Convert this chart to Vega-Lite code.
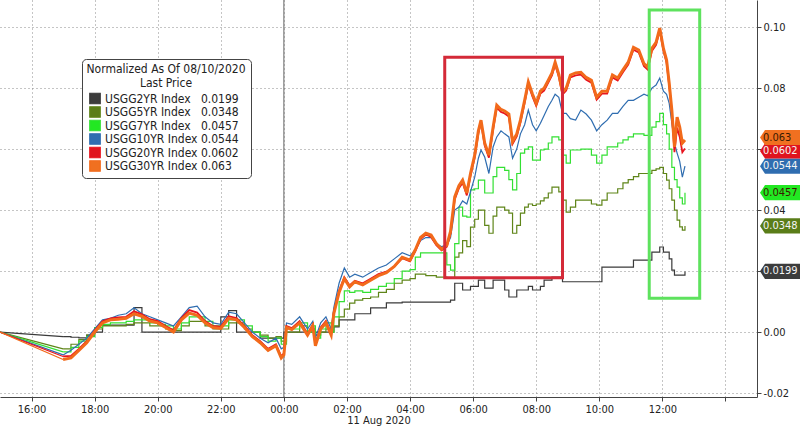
{
  "$schema": "https://vega.github.io/schema/vega-lite/v6.json",
  "width": 757,
  "height": 397,
  "autosize": {"type": "none"},
  "padding": {"left": 0, "top": 0, "right": 43, "bottom": 29},
  "background": "white",
  "config": {
    "view": {"stroke": null},
    "font": "DejaVu Sans Condensed, DejaVu Sans, sans-serif",
    "axis": {"domainColor": "#444", "tickColor": "#444", "labelColor": "#222", "labelFontSize": 11, "gridColor": "#8a8a8a", "gridDash": [1, 3], "gridWidth": 1, "titleFontWeight": "normal", "titleFontSize": 11, "titleColor": "#222"}
  },
  "datasets": {
    "series": [
      {"t":"2020-08-10T15:00","s2":0,"s5":0,"s7":0,"s10":0,"s20":0,"s30":0},
      {"t":"2020-08-10T17:00","s2":-0.0015,"s5":-0.0055,"s7":-0.0065,"s10":-0.0075,"s20":-0.008,"s30":-0.009},
      {"t":"2020-08-10T17:15","s2":-0.0017,"s5":-0.004,"s7":-0.005,"s10":-0.006,"s20":-0.0078,"s30":-0.0085},
      {"t":"2020-08-10T17:30","s2":-0.0019,"s5":-0.0025,"s7":-0.003,"s10":-0.004,"s20":-0.0055,"s30":-0.006},
      {"t":"2020-08-10T17:45","s2":-0.001,"s5":-0.001,"s7":-0.0015,"s10":-0.002,"s20":-0.003,"s30":-0.0035},
      {"t":"2020-08-10T18:00","s2":0,"s5":0.001,"s7":0.0015,"s10":0.001,"s20":0.0005,"s30":0},
      {"t":"2020-08-10T18:15","s2":0.0023,"s5":0.002,"s7":0.0025,"s10":0.004,"s20":0.0035,"s30":0.003},
      {"t":"2020-08-10T18:30","s2":0.0023,"s5":0.002,"s7":0.003,"s10":0.0045,"s20":0.0045,"s30":0.004},
      {"t":"2020-08-10T18:45","s2":0.0023,"s5":0.002,"s7":0.003,"s10":0.0055,"s20":0.0048,"s30":0.0042},
      {"t":"2020-08-10T19:00","s2":0.0023,"s5":0.0025,"s7":0.0035,"s10":0.006,"s20":0.005,"s30":0.0045},
      {"t":"2020-08-10T19:15","s2":0.008,"s5":0.003,"s7":0.004,"s10":0.008,"s20":0.0068,"s30":0.006},
      {"t":"2020-08-10T19:30","s2":0,"s5":0.003,"s7":0.004,"s10":0.006,"s20":0.0058,"s30":0.0052},
      {"t":"2020-08-10T19:45","s2":0,"s5":0.002,"s7":0.003,"s10":0.005,"s20":0.0042,"s30":0.0036},
      {"t":"2020-08-10T20:00","s2":0,"s5":0.002,"s7":0.0025,"s10":0.004,"s20":0.0036,"s30":0.003},
      {"t":"2020-08-10T20:15","s2":0,"s5":0.001,"s7":0.002,"s10":0.003,"s20":0.002,"s30":0.0015},
      {"t":"2020-08-10T20:30","s2":0,"s5":0.0005,"s7":0.001,"s10":0.002,"s20":0.0006,"s30":0},
      {"t":"2020-08-10T20:45","s2":0,"s5":0.002,"s7":0.003,"s10":0.005,"s20":0.0046,"s30":0.004},
      {"t":"2020-08-10T21:00","s2":0,"s5":0.0035,"s7":0.005,"s10":0.008,"s20":0.0072,"s30":0.0062},
      {"t":"2020-08-10T21:15","s2":0,"s5":0.0035,"s7":0.005,"s10":0.0085,"s20":0.0064,"s30":0.0055},
      {"t":"2020-08-10T21:30","s2":0,"s5":0.002,"s7":0.0035,"s10":0.005,"s20":0.0036,"s30":0.003},
      {"t":"2020-08-10T21:45","s2":0,"s5":0.001,"s7":0.002,"s10":0.003,"s20":0.002,"s30":0.0015},
      {"t":"2020-08-10T22:00","s2":0.005,"s5":0.001,"s7":0.002,"s10":0.0025,"s20":0.0018,"s30":0.0012},
      {"t":"2020-08-10T22:15","s2":0.007,"s5":0.003,"s7":0.004,"s10":0.0065,"s20":0.0052,"s30":0.0045},
      {"t":"2020-08-10T22:30","s2":0,"s5":0.003,"s7":0.004,"s10":0.006,"s20":0.0046,"s30":0.004},
      {"t":"2020-08-10T22:45","s2":0,"s5":0.001,"s7":0.002,"s10":0.003,"s20":0.002,"s30":0.0015},
      {"t":"2020-08-10T23:00","s2":0,"s5":0,"s7":0,"s10":0,"s20":-0.001,"s30":-0.0015},
      {"t":"2020-08-10T23:15","s2":-0.002,"s5":-0.001,"s7":-0.0015,"s10":-0.002,"s20":-0.003,"s30":-0.0035},
      {"t":"2020-08-10T23:30","s2":-0.002,"s5":-0.002,"s7":-0.003,"s10":-0.0035,"s20":-0.0055,"s30":-0.006},
      {"t":"2020-08-10T23:45","s2":-0.002,"s5":-0.0015,"s7":-0.002,"s10":-0.002,"s20":-0.004,"s30":-0.0045},
      {"t":"2020-08-10T23:55","s2":-0.002,"s5":-0.003,"s7":-0.004,"s10":-0.0055,"s20":-0.008,"s30":-0.0085},
      {"t":"2020-08-11T00:00","s2":0,"s5":-0.003,"s7":-0.004,"s10":-0.005,"s20":-0.007,"s30":-0.0075},
      {"t":"2020-08-11T00:05","s2":0,"s5":0,"s7":0.001,"s10":0.003,"s20":0.002,"s30":0.0015},
      {"t":"2020-08-11T00:15","s2":0,"s5":0,"s7":0.001,"s10":0.0025,"s20":0.0013,"s30":0.0008},
      {"t":"2020-08-11T00:30","s2":0,"s5":0.002,"s7":0.003,"s10":0.005,"s20":0.0036,"s30":0.003},
      {"t":"2020-08-11T00:45","s2":0,"s5":0,"s7":0,"s10":0.001,"s20":-0.0005,"s30":-0.001},
      {"t":"2020-08-11T00:55","s2":0,"s5":0.001,"s7":0.002,"s10":0.0035,"s20":0.0025,"s30":0.002},
      {"t":"2020-08-11T01:00","s2":0,"s5":-0.001,"s7":-0.002,"s10":-0.002,"s20":-0.004,"s30":-0.0045},
      {"t":"2020-08-11T01:10","s2":0,"s5":0,"s7":0.001,"s10":0.003,"s20":0.0015,"s30":0.001},
      {"t":"2020-08-11T01:20","s2":0,"s5":0.001,"s7":0.003,"s10":0.005,"s20":0.0036,"s30":0.003},
      {"t":"2020-08-11T01:30","s2":0,"s5":0,"s7":0,"s10":0.001,"s20":-0.0005,"s30":-0.001},
      {"t":"2020-08-11T01:35","s2":0.0017,"s5":0.002,"s7":0.005,"s10":0.008,"s20":0.0065,"s30":0.006},
      {"t":"2020-08-11T01:45","s2":0.004,"s5":0.005,"s7":0.01,"s10":0.016,"s20":0.0135,"s30":0.013},
      {"t":"2020-08-11T01:55","s2":0.004,"s5":0.0075,"s7":0.0135,"s10":0.021,"s20":0.018,"s30":0.0175},
      {"t":"2020-08-11T02:05","s2":0.004,"s5":0.0095,"s7":0.013,"s10":0.018,"s20":0.0153,"s30":0.0148},
      {"t":"2020-08-11T02:15","s2":0.006,"s5":0.0105,"s7":0.0135,"s10":0.019,"s20":0.0168,"s30":0.0165},
      {"t":"2020-08-11T02:30","s2":0.006,"s5":0.011,"s7":0.013,"s10":0.018,"s20":0.016,"s30":0.0155},
      {"t":"2020-08-11T02:45","s2":0.0079,"s5":0.0115,"s7":0.014,"s10":0.0195,"s20":0.0175,"s30":0.017},
      {"t":"2020-08-11T03:00","s2":0.0079,"s5":0.013,"s7":0.015,"s10":0.021,"s20":0.019,"s30":0.0185},
      {"t":"2020-08-11T03:15","s2":0.0096,"s5":0.014,"s7":0.016,"s10":0.022,"s20":0.0198,"s30":0.0195},
      {"t":"2020-08-11T03:30","s2":0.0096,"s5":0.016,"s7":0.0175,"s10":0.024,"s20":0.0215,"s30":0.0215},
      {"t":"2020-08-11T03:45","s2":0.0098,"s5":0.017,"s7":0.02,"s10":0.026,"s20":0.0242,"s30":0.0245},
      {"t":"2020-08-11T04:00","s2":0.0098,"s5":0.0175,"s7":0.0205,"s10":0.025,"s20":0.0232,"s30":0.0236},
      {"t":"2020-08-11T04:10","s2":0.0098,"s5":0.019,"s7":0.0246,"s10":0.027,"s20":0.0265,"s30":0.027},
      {"t":"2020-08-11T04:20","s2":0.0098,"s5":0.019,"s7":0.026,"s10":0.03,"s20":0.0305,"s30":0.031},
      {"t":"2020-08-11T04:30","s2":0.0098,"s5":0.0185,"s7":0.026,"s10":0.031,"s20":0.032,"s30":0.0324},
      {"t":"2020-08-11T04:40","s2":0.0098,"s5":0.0185,"s7":0.026,"s10":0.031,"s20":0.0312,"s30":0.0318},
      {"t":"2020-08-11T04:50","s2":0.0098,"s5":0.018,"s7":0.026,"s10":0.029,"s20":0.0285,"s30":0.029},
      {"t":"2020-08-11T05:00","s2":0.0098,"s5":0.018,"s7":0.026,"s10":0.028,"s20":0.0268,"s30":0.0272},
      {"t":"2020-08-11T05:10","s2":0.0098,"s5":0.0177,"s7":0.022,"s10":0.0285,"s20":0.028,"s30":0.0285},
      {"t":"2020-08-11T05:17","s2":0.0105,"s5":0.0177,"s7":0.0203,"s10":0.031,"s20":0.0324,"s30":0.033},
      {"t":"2020-08-11T05:25","s2":0.016,"s5":0.0246,"s7":0.029,"s10":0.04,"s20":0.0435,"s30":0.0443},
      {"t":"2020-08-11T05:33","s2":0.016,"s5":0.026,"s7":0.041,"s10":0.041,"s20":0.0472,"s30":0.048},
      {"t":"2020-08-11T05:40","s2":0.0138,"s5":0.03,"s7":0.038,"s10":0.043,"s20":0.049,"s30":0.0498},
      {"t":"2020-08-11T05:48","s2":0.0138,"s5":0.028,"s7":0.0377,"s10":0.042,"s20":0.0448,"s30":0.0456},
      {"t":"2020-08-11T05:55","s2":0.015,"s5":0.0344,"s7":0.0466,"s10":0.046,"s20":0.0512,"s30":0.052},
      {"t":"2020-08-11T06:03","s2":0.015,"s5":0.037,"s7":0.047,"s10":0.0508,"s20":0.0572,"s30":0.058},
      {"t":"2020-08-11T06:10","s2":0.017,"s5":0.04,"s7":0.0498,"s10":0.057,"s20":0.0652,"s30":0.066},
      {"t":"2020-08-11T06:15","s2":0.017,"s5":0.04,"s7":0.0498,"s10":0.0597,"s20":0.0687,"s30":0.0695},
      {"t":"2020-08-11T06:22","s2":0.0144,"s5":0.035,"s7":0.0456,"s10":0.0574,"s20":0.0612,"s30":0.062},
      {"t":"2020-08-11T06:30","s2":0.0144,"s5":0.0324,"s7":0.0456,"s10":0.052,"s20":0.0572,"s30":0.058},
      {"t":"2020-08-11T06:38","s2":0.017,"s5":0.038,"s7":0.051,"s10":0.0607,"s20":0.0664,"s30":0.0672},
      {"t":"2020-08-11T06:45","s2":0.017,"s5":0.041,"s7":0.054,"s10":0.064,"s20":0.0736,"s30":0.0744},
      {"t":"2020-08-11T06:53","s2":0.017,"s5":0.041,"s7":0.054,"s10":0.066,"s20":0.0722,"s30":0.073},
      {"t":"2020-08-11T07:00","s2":0.0138,"s5":0.04,"s7":0.053,"s10":0.065,"s20":0.0717,"s30":0.0725},
      {"t":"2020-08-11T07:08","s2":0.0115,"s5":0.039,"s7":0.05,"s10":0.064,"s20":0.0707,"s30":0.0715},
      {"t":"2020-08-11T07:15","s2":0.0115,"s5":0.0324,"s7":0.0466,"s10":0.057,"s20":0.0617,"s30":0.0625},
      {"t":"2020-08-11T07:23","s2":0.0138,"s5":0.035,"s7":0.052,"s10":0.06,"s20":0.0642,"s30":0.065},
      {"t":"2020-08-11T07:30","s2":0.0138,"s5":0.039,"s7":0.0587,"s10":0.065,"s20":0.0687,"s30":0.0695},
      {"t":"2020-08-11T07:38","s2":0.0138,"s5":0.041,"s7":0.06,"s10":0.068,"s20":0.0752,"s30":0.076},
      {"t":"2020-08-11T07:45","s2":0.015,"s5":0.042,"s7":0.0607,"s10":0.0728,"s20":0.0812,"s30":0.082},
      {"t":"2020-08-11T07:53","s2":0.0138,"s5":0.0415,"s7":0.0564,"s10":0.068,"s20":0.0772,"s30":0.078},
      {"t":"2020-08-11T08:00","s2":0.0138,"s5":0.042,"s7":0.0564,"s10":0.066,"s20":0.0742,"s30":0.075},
      {"t":"2020-08-11T08:08","s2":0.015,"s5":0.043,"s7":0.0597,"s10":0.0685,"s20":0.0782,"s30":0.079},
      {"t":"2020-08-11T08:15","s2":0.017,"s5":0.044,"s7":0.06,"s10":0.071,"s20":0.0792,"s30":0.08},
      {"t":"2020-08-11T08:23","s2":0.017,"s5":0.0456,"s7":0.062,"s10":0.074,"s20":0.0818,"s30":0.0826},
      {"t":"2020-08-11T08:30","s2":0.018,"s5":0.0475,"s7":0.064,"s10":0.076,"s20":0.0842,"s30":0.085},
      {"t":"2020-08-11T08:36","s2":0.018,"s5":0.0475,"s7":0.064,"s10":0.078,"s20":0.0877,"s30":0.0885},
      {"t":"2020-08-11T08:43","s2":0.018,"s5":0.046,"s7":0.063,"s10":0.077,"s20":0.0837,"s30":0.0845},
      {"t":"2020-08-11T08:50","s2":0.0165,"s5":0.0433,"s7":0.058,"s10":0.0717,"s20":0.0779,"s30":0.0787},
      {"t":"2020-08-11T08:57","s2":0.0165,"s5":0.0393,"s7":0.0554,"s10":0.0717,"s20":0.0792,"s30":0.08},
      {"t":"2020-08-11T09:05","s2":0.0165,"s5":0.041,"s7":0.0597,"s10":0.07,"s20":0.0835,"s30":0.0843},
      {"t":"2020-08-11T09:15","s2":0.0165,"s5":0.0433,"s7":0.0597,"s10":0.0695,"s20":0.0842,"s30":0.085},
      {"t":"2020-08-11T09:25","s2":0.0165,"s5":0.0433,"s7":0.06,"s10":0.0728,"s20":0.0844,"s30":0.0852},
      {"t":"2020-08-11T09:35","s2":0.0165,"s5":0.0433,"s7":0.06,"s10":0.0715,"s20":0.0827,"s30":0.0835},
      {"t":"2020-08-11T09:45","s2":0.0165,"s5":0.042,"s7":0.058,"s10":0.0695,"s20":0.0818,"s30":0.0826},
      {"t":"2020-08-11T09:55","s2":0.0165,"s5":0.0416,"s7":0.0554,"s10":0.066,"s20":0.0762,"s30":0.077},
      {"t":"2020-08-11T10:05","s2":0.0213,"s5":0.0433,"s7":0.058,"s10":0.068,"s20":0.0782,"s30":0.079},
      {"t":"2020-08-11T10:15","s2":0.0213,"s5":0.0456,"s7":0.0607,"s10":0.0695,"s20":0.0782,"s30":0.079},
      {"t":"2020-08-11T10:25","s2":0.0213,"s5":0.0456,"s7":0.0607,"s10":0.0717,"s20":0.0835,"s30":0.0843},
      {"t":"2020-08-11T10:35","s2":0.0213,"s5":0.047,"s7":0.062,"s10":0.0717,"s20":0.0825,"s30":0.0833},
      {"t":"2020-08-11T10:45","s2":0.0213,"s5":0.0489,"s7":0.063,"s10":0.074,"s20":0.0852,"s30":0.086},
      {"t":"2020-08-11T10:55","s2":0.0213,"s5":0.05,"s7":0.064,"s10":0.076,"s20":0.0877,"s30":0.0885},
      {"t":"2020-08-11T11:05","s2":0.0236,"s5":0.051,"s7":0.065,"s10":0.076,"s20":0.0926,"s30":0.0934},
      {"t":"2020-08-11T11:15","s2":0.0236,"s5":0.052,"s7":0.065,"s10":0.077,"s20":0.0917,"s30":0.0925},
      {"t":"2020-08-11T11:25","s2":0.0236,"s5":0.052,"s7":0.0645,"s10":0.078,"s20":0.0872,"s30":0.088},
      {"t":"2020-08-11T11:32","s2":0.0236,"s5":0.052,"s7":0.0645,"s10":0.0775,"s20":0.0861,"s30":0.0869},
      {"t":"2020-08-11T11:40","s2":0.0262,"s5":0.053,"s7":0.0672,"s10":0.08,"s20":0.0922,"s30":0.093},
      {"t":"2020-08-11T11:48","s2":0.0262,"s5":0.0535,"s7":0.069,"s10":0.081,"s20":0.0942,"s30":0.095},
      {"t":"2020-08-11T11:55","s2":0.0279,"s5":0.054,"s7":0.0717,"s10":0.0833,"s20":0.0989,"s30":0.0997},
      {"t":"2020-08-11T12:02","s2":0.0262,"s5":0.052,"s7":0.068,"s10":0.079,"s20":0.0922,"s30":0.093},
      {"t":"2020-08-11T12:08","s2":0.0262,"s5":0.0498,"s7":0.065,"s10":0.078,"s20":0.0884,"s30":0.0892},
      {"t":"2020-08-11T12:13","s2":0.024,"s5":0.047,"s7":0.06,"s10":0.075,"s20":0.0808,"s30":0.0816},
      {"t":"2020-08-11T12:18","s2":0.0203,"s5":0.0433,"s7":0.054,"s10":0.0685,"s20":0.072,"s30":0.0728},
      {"t":"2020-08-11T12:23","s2":0.0187,"s5":0.04,"s7":0.05,"s10":0.062,"s20":0.059,"s30":0.0607},
      {"t":"2020-08-11T12:28","s2":0.0187,"s5":0.0367,"s7":0.0475,"s10":0.0587,"s20":0.067,"s30":0.0705},
      {"t":"2020-08-11T12:33","s2":0.0187,"s5":0.0345,"s7":0.044,"s10":0.056,"s20":0.064,"s30":0.0672},
      {"t":"2020-08-11T12:38","s2":0.0187,"s5":0.0334,"s7":0.042,"s10":0.0508,"s20":0.059,"s30":0.062},
      {"t":"2020-08-11T12:43","s2":0.0199,"s5":0.0348,"s7":0.0457,"s10":0.0544,"s20":0.0602,"s30":0.063}
    ],
    "boxes": [
      {"box": "red", "x0": "2020-08-11T05:06", "x1": "2020-08-11T08:50", "y0": 0.0178, "y1": 0.0901},
      {"box": "green", "x0": "2020-08-11T11:35", "x1": "2020-08-11T13:11", "y0": 0.0111, "y1": 0.1056}
    ],
    "tags": [
      {"key": "s2", "v": 0.0199, "label": "0.0199"},
      {"key": "s5", "v": 0.0348, "label": "0.0348"},
      {"key": "s7", "v": 0.0457, "label": "0.0457"},
      {"key": "s10", "v": 0.0544, "label": "0.0544"},
      {"key": "s20", "v": 0.0594, "label": "0.0602"},
      {"key": "s30", "v": 0.0638, "label": "0.063"}
    ],
    "midnight": [{"t": "2020-08-11T00:00"}]
  },
  "layer": [
    {
      "data": {"name": "series"},
      "transform": [
        {"fold": ["s2", "s5", "s7", "s10", "s20", "s30"], "as": ["key", "val"]},
        {"filter": {"field": "t", "lte": {"year": 2020, "month": 8, "date": 10, "hours": 17}}}
      ],
      "mark": {"type": "line", "interpolate": "linear"},
      "encoding": {
        "x": {"field": "t", "type": "temporal", "title": "11 Aug 2020",
              "scale": {"domain": [{"year": 2020, "month": 8, "date": 10, "hours": 15}, {"year": 2020, "month": 8, "date": 11, "hours": 15}], "nice": false},
              "axis": {
                "values": [
                  {"year": 2020, "month": 8, "date": 10, "hours": 16}, {"year": 2020, "month": 8, "date": 10, "hours": 17},
                  {"year": 2020, "month": 8, "date": 10, "hours": 18}, {"year": 2020, "month": 8, "date": 10, "hours": 19},
                  {"year": 2020, "month": 8, "date": 10, "hours": 20}, {"year": 2020, "month": 8, "date": 10, "hours": 21},
                  {"year": 2020, "month": 8, "date": 10, "hours": 22}, {"year": 2020, "month": 8, "date": 10, "hours": 23},
                  {"year": 2020, "month": 8, "date": 11, "hours": 0}, {"year": 2020, "month": 8, "date": 11, "hours": 1},
                  {"year": 2020, "month": 8, "date": 11, "hours": 2}, {"year": 2020, "month": 8, "date": 11, "hours": 3},
                  {"year": 2020, "month": 8, "date": 11, "hours": 4}, {"year": 2020, "month": 8, "date": 11, "hours": 5},
                  {"year": 2020, "month": 8, "date": 11, "hours": 6}, {"year": 2020, "month": 8, "date": 11, "hours": 7},
                  {"year": 2020, "month": 8, "date": 11, "hours": 8}, {"year": 2020, "month": 8, "date": 11, "hours": 9},
                  {"year": 2020, "month": 8, "date": 11, "hours": 10}, {"year": 2020, "month": 8, "date": 11, "hours": 11},
                  {"year": 2020, "month": 8, "date": 11, "hours": 12}, {"year": 2020, "month": 8, "date": 11, "hours": 13},
                  {"year": 2020, "month": 8, "date": 11, "hours": 14}
                ],
                "labelExpr": "(hours(datum.value) % 2 == 1 || hours(datum.value) == 14) ? '' : timeFormat(datum.value, '%H:%M')",
                "grid": true,
                "gridOpacity": {"condition": {"test": "hours(datum.value) % 2 == 1", "value": 0}, "value": 1},
                "tickSize": 4, "labelPadding": 2, "titlePadding": 0, "labelFlush": false, "labelOverlap": false
              }},
        "y": {"field": "val", "type": "quantitative", "title": null,
              "scale": {"domain": [-0.0213, 0.1089], "nice": false, "zero": false},
              "axis": {
                "orient": "right",
                "values": [-0.02, -0.01, 0, 0.01, 0.02, 0.03, 0.04, 0.05, 0.06, 0.07, 0.08, 0.09, 0.1],
                "labelExpr": "(abs(round(datum.value*100)) % 2 == 1 || abs(datum.value - 0.06) < 0.001 || abs(datum.value - 0.02) < 0.001) ? '' : replace(format(datum.value, '.2f'), '\u2212', '-')",
                "grid": true,
                "gridOpacity": {"condition": {"test": "abs(round(datum.value*100)) % 2 == 1", "value": 0}, "value": 1},
                "tickSize": 4,
                "labelPadding": 2, "labelOverlap": false, "labelFlush": false
              }},
        "color": {"field": "key", "type": "nominal",
                  "scale": {"domain": ["s2", "s5", "s7", "s10", "s20", "s30"], "range": ["#3a3a3a", "#5f8519", "#33e033", "#2f6db0", "#e8141e", "#f26a1b"]},
                  "legend": {
                    "orient": "none", "legendX": 82, "legendY": 59,
                    "title": ["Normalized As Of 08/10/2020", "Last Price"],
                    "titleAlign": "center", "titleAnchor": "middle", "titleFontWeight": "normal", "titleFontSize": 12, "titleColor": "#222", "titleLineHeight": 14, "titlePadding": 2,
                    "labelFontSize": 12, "labelColor": "#222", "labelOffset": 4,
                    "symbolType": "square", "symbolSize": 110, "symbolStrokeWidth": 0,
                    "clipHeight": 13, "rowPadding": 0.5, "padding": 5, "fillColor": "white", "strokeColor": "#444", "cornerRadius": 4,
                    "labelExpr": "datum.value == 's2' ? 'USGG2YR Index\u2007  0.0199' : datum.value == 's5' ? 'USGG5YR Index\u2007  0.0348' : datum.value == 's7' ? 'USGG7YR Index\u2007  0.0457' : datum.value == 's10' ? 'USGG10YR Index  0.0544' : datum.value == 's20' ? 'USGG20YR Index  0.0602' : 'USGG30YR Index  0.063'",
                    "encode": {"symbols": {"update": {"fill": {"scale": "color", "field": "value"}, "stroke": {"value": "transparent"}}}}
                  }},
        "strokeWidth": {"field": "key", "type": "nominal", "scale": {"domain": ["s2", "s5", "s7", "s10", "s20", "s30"], "range": [1.2, 1.2, 1.2, 1.2, 1.8, 3]}, "legend": null}
      }
    },
    {
      "data": {"name": "midnight"},
      "mark": {"type": "rule", "color": "#666", "strokeWidth": 1},
      "encoding": {
        "x": {"field": "t", "type": "temporal", "title": "11 Aug 2020"}
      }
    },
    {
      "data": {"name": "series"},
      "transform": [
        {"fold": ["s2", "s5", "s7", "s10", "s20", "s30"], "as": ["key", "val"]},
        {"filter": {"field": "t", "gte": {"year": 2020, "month": 8, "date": 10, "hours": 17}}},
        {"filter": {"field": "key", "oneOf": ["s2", "s5", "s7"]}}
      ],
      "mark": {"type": "line", "interpolate": "step-after", "strokeWidth": 1.2},
      "encoding": {
        "x": {"field": "t", "type": "temporal", "title": "11 Aug 2020"},
        "y": {"field": "val", "type": "quantitative", "title": null},
        "color": {"field": "key", "type": "nominal"}
      }
    },
    {
      "data": {"name": "series"},
      "transform": [
        {"fold": ["s2", "s5", "s7", "s10", "s20", "s30"], "as": ["key", "val"]},
        {"filter": {"field": "t", "gte": {"year": 2020, "month": 8, "date": 10, "hours": 17}}},
        {"filter": {"field": "key", "equal": "s10"}}
      ],
      "mark": {"type": "line", "interpolate": "linear", "strokeWidth": 1.2},
      "encoding": {
        "x": {"field": "t", "type": "temporal", "title": "11 Aug 2020"},
        "y": {"field": "val", "type": "quantitative", "title": null},
        "color": {"field": "key", "type": "nominal"}
      }
    },
    {
      "data": {"name": "series"},
      "transform": [
        {"fold": ["s2", "s5", "s7", "s10", "s20", "s30"], "as": ["key", "val"]},
        {"filter": {"field": "t", "gte": {"year": 2020, "month": 8, "date": 10, "hours": 17}}},
        {"filter": {"field": "key", "equal": "s20"}}
      ],
      "mark": {"type": "line", "interpolate": "linear", "strokeWidth": 1.8},
      "encoding": {
        "x": {"field": "t", "type": "temporal", "title": "11 Aug 2020"},
        "y": {"field": "val", "type": "quantitative", "title": null},
        "color": {"field": "key", "type": "nominal"}
      }
    },
    {
      "data": {"name": "series"},
      "transform": [
        {"fold": ["s2", "s5", "s7", "s10", "s20", "s30"], "as": ["key", "val"]},
        {"filter": {"field": "t", "gte": {"year": 2020, "month": 8, "date": 10, "hours": 17}}},
        {"filter": {"field": "key", "equal": "s30"}}
      ],
      "mark": {"type": "line", "interpolate": "linear", "strokeWidth": 3},
      "encoding": {
        "x": {"field": "t", "type": "temporal", "title": "11 Aug 2020"},
        "y": {"field": "val", "type": "quantitative", "title": null},
        "color": {"field": "key", "type": "nominal"}
      }
    },
    {
      "data": {"name": "boxes"},
      "mark": {"type": "rect", "fill": "transparent", "strokeWidth": 3},
      "encoding": {
        "x": {"field": "x0", "type": "temporal", "title": "11 Aug 2020"},
        "x2": {"field": "x1"},
        "y": {"field": "y0", "type": "quantitative", "title": null},
        "y2": {"field": "y1"},
        "stroke": {"field": "box", "type": "nominal", "scale": {"domain": ["red", "green"], "range": ["#d42a38", "#5ee25e"]}, "legend": null}
      }
    },
    {
      "data": {"name": "tags"},
      "mark": {"type": "point", "filled": true, "opacity": 1, "strokeWidth": 0, "size": 1600, "xOffset": 23,
               "shape": "M-1,0 L-0.75,-0.38 L1,-0.38 L1,0.38 L-0.75,0.38 Z"},
      "encoding": {
        "x": {"datum": {"year": 2020, "month": 8, "date": 11, "hours": 15}, "type": "temporal", "title": "11 Aug 2020"},
        "y": {"field": "v", "type": "quantitative", "title": null},
        "fill": {"field": "key", "type": "nominal", "scale": {"domain": ["s2", "s5", "s7", "s10", "s20", "s30"], "range": ["#3c3c3c", "#5a7d18", "#22e822", "#2f6db0", "#e0141e", "#f07020"]}, "legend": null}
      }
    },
    {
      "data": {"name": "tags"},
      "transform": [{"filter": {"field": "key", "oneOf": ["s7", "s30"]}}],
      "mark": {"type": "text", "align": "left", "baseline": "middle", "dx": 6, "fontSize": 11, "fill": "#3a1a00"},
      "encoding": {
        "x": {"datum": {"year": 2020, "month": 8, "date": 11, "hours": 15}, "type": "temporal", "title": "11 Aug 2020"},
        "y": {"field": "v", "type": "quantitative", "title": null},
        "text": {"field": "label", "type": "nominal"}
      }
    },
    {
      "data": {"name": "tags"},
      "transform": [{"filter": {"field": "key", "oneOf": ["s2", "s5", "s10", "s20"]}}],
      "mark": {"type": "text", "align": "left", "baseline": "middle", "dx": 6, "fontSize": 11, "fill": "#f4f4f4"},
      "encoding": {
        "x": {"datum": {"year": 2020, "month": 8, "date": 11, "hours": 15}, "type": "temporal", "title": "11 Aug 2020"},
        "y": {"field": "v", "type": "quantitative", "title": null},
        "text": {"field": "label", "type": "nominal"}
      }
    }
  ]
}
